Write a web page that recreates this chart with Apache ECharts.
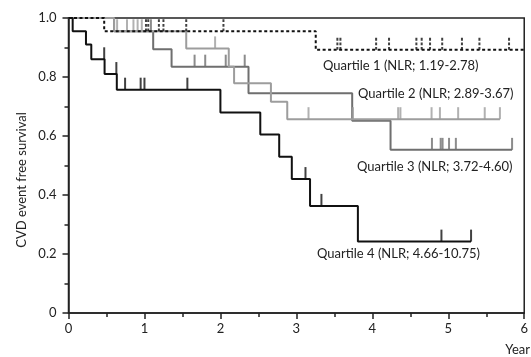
<!DOCTYPE html>
<html>
<head>
<meta charset="utf-8">
<script src="https://cdn.jsdelivr.net/npm/echarts@6/dist/echarts.min.js"></script>
<style>
  html, body { margin: 0; padding: 0; background: #fff; }
  #kmChart { width: 531px; height: 357px; }
</style>
</head>
<body>
<div id="kmChart"></div>
<script>
// step points: time (years) at which survival drops to the given value
var q1Times = [0, 0.47, 3.255, 6.0];
var q1Surv  = [1, 0.955, 0.892, 0.892];
var q1Censor = [1.02, 1.05, 1.19, 1.25, 1.55, 2.04, 3.54, 3.58, 4.05, 4.22, 4.58, 4.65, 4.76, 4.92, 5.18, 5.41, 5.80];

var q2Times = [0, 0.6, 1.55, 2.11, 2.18, 2.665, 2.88, 5.68];
var q2Surv  = [1, 0.955, 0.897, 0.835, 0.779, 0.716, 0.657, 0.657];
var q2Censor = [0.64, 0.77, 0.855, 0.91, 0.965, 1.93, 3.16, 3.745, 4.34, 4.37, 4.78, 4.89, 5.13, 5.48, 5.68];

var q3Times = [0, 0.6, 1.115, 1.357, 2.37, 3.735, 4.24, 5.84];
var q3Surv  = [1, 0.955, 0.894, 0.835, 0.745, 0.652, 0.553, 0.553];
var q3Censor = [1.085, 1.66, 1.80, 2.07, 2.32, 4.785, 4.90, 4.925, 5.01, 5.10, 5.84];

var q4Times = [0, 0.055, 0.23, 0.30, 0.475, 0.636, 2.0, 2.525, 2.774, 2.94, 3.18, 3.81, 5.30];
var q4Surv  = [1, 0.955, 0.91, 0.86, 0.81, 0.757, 0.68, 0.605, 0.53, 0.454, 0.363, 0.242, 0.242];
var q4Censor = [0.47, 0.63, 0.745, 0.95, 1.0, 1.565, 3.12, 3.33, 4.91, 5.30];

var groupNames = ['Quartile 1 (NLR; 1.19-2.78)', 'Quartile 2 (NLR; 2.89-3.67)',
                  'Quartile 3 (NLR; 3.72-4.60)', 'Quartile 4 (NLR; 4.66-10.75)'];
var xTicks = [0, 1, 2, 3, 4, 5, 6];

function pairs(ts, ss) {
  return ts.map(function (t, i) { return [t, ss[i]]; });
}
function survAt(ts, ss, t) {
  var v = ss[0];
  for (var i = 0; i < ts.length; i++) { if (ts[i] <= t) v = ss[i]; }
  return v;
}
function censorPts(cs, ts, ss) {
  return cs.map(function (t) { return [t, survAt(ts, ss, t)]; });
}

var FONT = 'Lato';
var dotTick = 'path://M0,0h2v3h-2zM0,5h2v3h-2zM0,10h2v3h-2z';

function curve(name, data, color, dashed) {
  return {
    name: name, type: 'line', step: 'end', data: data, symbol: 'none',
    lineStyle: { color: color, width: 2, type: dashed ? [3, 2.5] : 'solid' },
    z: dashed ? 5 : 3, silent: true
  };
}
function ticks(name, data, color, dotted) {
  return {
    name: name, type: 'scatter', data: data,
    symbol: dotted ? dotTick : 'rect', symbolSize: [2, 12], symbolOffset: [0, -6],
    itemStyle: { color: color }, z: dotted ? 6 : 4, silent: true
  };
}

var chart = echarts.init(document.getElementById('kmChart'));
chart.setOption({
  animation: false,
  grid: { left: 68.5, right: 5, top: 18, bottom: 44, show: true,
          borderColor: '#222', borderWidth: 1.5, backgroundColor: 'transparent' },
  xAxis: {
    type: 'value', min: 0, max: 6, interval: 1,
    axisLine: { show: true, lineStyle: { color: '#222', width: 1.5 } },
    axisTick: { show: true, length: 6, lineStyle: { color: '#222', width: 1.5 } },
    minorTick: { show: true, splitNumber: 2, length: 4, lineStyle: { color: '#222', width: 1.5 } },
    splitLine: { show: false },
    axisLabel: { color: '#222', fontFamily: FONT, fontSize: 13, margin: 9,
                 formatter: function (v) { return xTicks.indexOf(v) >= 0 ? String(v) : ''; } }
  },
  yAxis: {
    type: 'value', min: 0, max: 1, interval: 0.2,
    axisLine: { show: true, lineStyle: { color: '#222', width: 1.5 } },
    axisTick: { show: true, length: 6, lineStyle: { color: '#222', width: 1.5 } },
    minorTick: { show: true, splitNumber: 2, length: 4, lineStyle: { color: '#222', width: 1.5 } },
    splitLine: { show: false },
    axisLabel: { color: '#222', fontFamily: FONT, fontSize: 13, margin: 12,
                 formatter: function (v) { return v === 0 ? '0' : v.toFixed(1); } }
  },
  graphic: [
    { type: 'text', left: 323, top: 59, style: { text: groupNames[0], fill: '#222', font: '13px ' + FONT } },
    { type: 'text', left: 358, top: 87, style: { text: groupNames[1], fill: '#222', font: '13px ' + FONT } },
    { type: 'text', left: 357, top: 160, style: { text: groupNames[2], fill: '#222', font: '13px ' + FONT } },
    { type: 'text', left: 317, top: 247, style: { text: groupNames[3], fill: '#222', font: '13px ' + FONT } },
    { type: 'text', right: 1, top: 343, style: { text: 'Year', fill: '#222', font: '13px ' + FONT } },
    { type: 'text', x: 22, y: 180, rotation: Math.PI / 2,
      style: { text: 'CVD event free survival', fill: '#222', font: '13px ' + FONT,
               textAlign: 'center', textVerticalAlign: 'middle' } }
  ],
  series: [
    curve('Q3', pairs(q3Times, q3Surv), '#6f6f6f', false),
    curve('Q2', pairs(q2Times, q2Surv), '#9d9d9d', false),
    curve('Q4', pairs(q4Times, q4Surv), '#111', false),
    curve('Q1', pairs(q1Times, q1Surv), '#111', true),
    ticks('Q3c', censorPts(q3Censor, q3Times, q3Surv), '#6f6f6f', false),
    ticks('Q2c', censorPts(q2Censor, q2Times, q2Surv), '#9d9d9d', false),
    ticks('Q4c', censorPts(q4Censor, q4Times, q4Surv), '#111', false),
    ticks('Q1c', censorPts(q1Censor, q1Times, q1Surv), '#111', true)
  ]
});
</script>
</body>
</html>
